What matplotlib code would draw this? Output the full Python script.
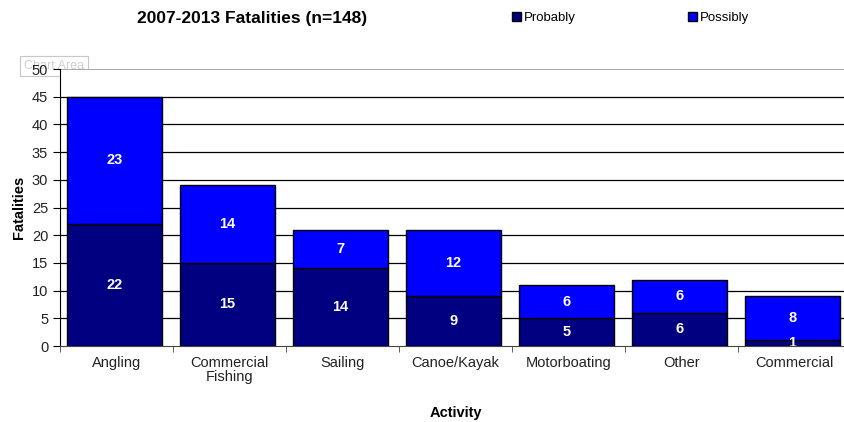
import numpy as np
import matplotlib
matplotlib.use('Agg')
import matplotlib.pyplot as plt

plt.rcParams['font.family'] = ['Liberation Sans', 'DejaVu Sans']

# fatalities per activity, 2007-2013
activities = ['Angling', 'Commercial\nFishing', 'Sailing', 'Canoe/Kayak',
              'Motorboating', 'Other', 'Commercial']
probably = [22, 15, 14, 9, 5, 6, 1]
possibly = [23, 14, 7, 12, 6, 6, 8]

fig = plt.figure(figsize=(8.44, 4.22), dpi=100)
ax = fig.add_axes([60 / 844, 76 / 422, 791 / 844, 277 / 422])

x_pos = np.arange(len(activities))
bar_width = 0.84

b1 = ax.bar(x_pos - 0.02, probably, bar_width, color='#000080', edgecolor='black',
            linewidth=1, label='Probably', zorder=3)
b2 = ax.bar(x_pos - 0.02, possibly, bar_width, bottom=probably, color='#0000FF',
            edgecolor='black', linewidth=1, label='Possibly', zorder=3)

# waarden in de staven
for i in range(len(activities)):
    ax.text(x_pos[i] - 0.02, probably[i] / 2, str(probably[i]), ha='center', va='center',
            color='white', fontweight='bold', fontsize=10.5, zorder=4, clip_on=True)
    ax.text(x_pos[i] - 0.02, probably[i] + possibly[i] / 2, str(possibly[i]), ha='center',
            va='center', color='white', fontweight='bold', fontsize=10.5, zorder=4)

ax.set_xlim(-0.5, len(activities) - 0.5)
ax.set_ylim(0, 50)
ax.set_yticks(np.arange(0, 51, 5))
ax.set_xticks(x_pos)
ax.set_xticklabels(activities, fontsize=10.5, color='#222222', linespacing=1.0)
ax.set_xticks(np.arange(-0.5, len(activities), 1), minor=True)
ax.tick_params(axis='x', which='major', length=0, pad=7)
ax.tick_params(axis='x', which='minor', length=4, direction='out', color='#444444')
ax.tick_params(axis='y', length=5, direction='out', labelsize=10.5, labelcolor='#222222')

# rasterlijnen
for v in range(5, 50, 5):
    ax.axhline(v, color='black', linewidth=0.9, zorder=1)
ax.axhline(50, color='#999999', linewidth=1.2, zorder=1)

for s in ['top', 'right']:
    ax.spines[s].set_visible(False)
ax.spines['left'].set_color('black')
ax.spines['bottom'].set_color('#444444')

ax.set_ylabel('Fatalities', fontsize=10.5, fontweight='bold', labelpad=4)
ax.set_xlabel('Activity', fontsize=10.5, fontweight='bold', labelpad=16)

fig.text(252 / 844, 1 - 18 / 422, '2007-2013 Fatalities (n=148)', ha='center',
         va='center', fontsize=12.5, fontweight='bold')

fig.legend(handles=[b1], loc='center left', bbox_to_anchor=(505 / 844, 1 - 18 / 422),
           frameon=False, fontsize=9.5, handlelength=0.7, handleheight=0.7,
           handletextpad=0.2, borderpad=0)
fig.legend(handles=[b2], loc='center left', bbox_to_anchor=(681 / 844, 1 - 18 / 422),
           frameon=False, fontsize=9.5, handlelength=0.7, handleheight=0.7,
           handletextpad=0.2, borderpad=0)

# tooltip box linksboven, achter de aslabels
fig.text(54 / 844, 1 - 66 / 422, 'Chart Area', ha='center', va='center', fontsize=9,
         color='#d0d0d0', bbox=dict(boxstyle='square,pad=0.35', fc='white',
                                    ec='#c8c8c8', lw=0.8), zorder=-1)

fig.savefig('out.png', dpi=100)
